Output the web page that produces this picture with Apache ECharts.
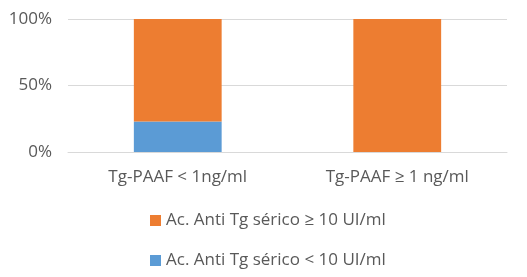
<!DOCTYPE html>
<html>
<head>
<meta charset="utf-8">
<script src="https://cdn.jsdelivr.net/npm/echarts@6/dist/echarts.min.js"></script>
<style>
  html, body { margin: 0; padding: 0; background: #fff; }
  #chart { width: 527px; height: 277px; }
</style>
</head>
<body>
<div id="chart"></div>
<script>
var categories = ["Tg-PAAF < 1ng/ml", "Tg-PAAF \u2265 1 ng/ml"];
var lowAnti = [23, 0];
var highAnti = [77, 100];
var seriesNames = ["Ac. Anti Tg s\u00e9rico < 10 UI/ml", "Ac. Anti Tg s\u00e9rico \u2265 10 UI/ml"];
var yTicks = [0, 50, 100];

var textColor = "#595959";
var font = "Open Sans";

var myChart = echarts.init(document.getElementById("chart"));
var option = {
  animation: false,
  textStyle: { fontFamily: font },
  grid: { left: 68, right: 20, top: 19, height: 133 },
  legend: {
    orient: "vertical",
    left: 145,
    top: 207,
    itemWidth: 11,
    itemHeight: 11,
    itemGap: 23,
    icon: "rect",
    data: [seriesNames[1], seriesNames[0]],
    textStyle: { color: textColor, fontSize: 17, fontFamily: font }
  },
  xAxis: {
    type: "category",
    data: categories,
    axisTick: { show: false },
    axisLine: { lineStyle: { color: "#d9d9d9", width: 1 } },
    axisLabel: { color: textColor, fontSize: 17, margin: 17, fontFamily: font }
  },
  yAxis: {
    type: "value",
    min: yTicks[0],
    max: yTicks[yTicks.length - 1],
    interval: 50,
    axisLine: { show: false },
    axisTick: { show: false },
    axisLabel: { color: textColor, fontSize: 17, margin: 16, formatter: "{value}%", fontFamily: font },
    splitLine: { lineStyle: { color: "#d9d9d9", width: 1 } }
  },
  series: [
    {
      name: seriesNames[0],
      type: "bar",
      stack: "total",
      barWidth: "40%",
      data: lowAnti,
      itemStyle: { color: "#5b9bd5" }
    },
    {
      name: seriesNames[1],
      type: "bar",
      stack: "total",
      barWidth: "40%",
      data: highAnti,
      itemStyle: { color: "#ed7d31" }
    }
  ]
};
myChart.setOption(option);
</script>
</body>
</html>
